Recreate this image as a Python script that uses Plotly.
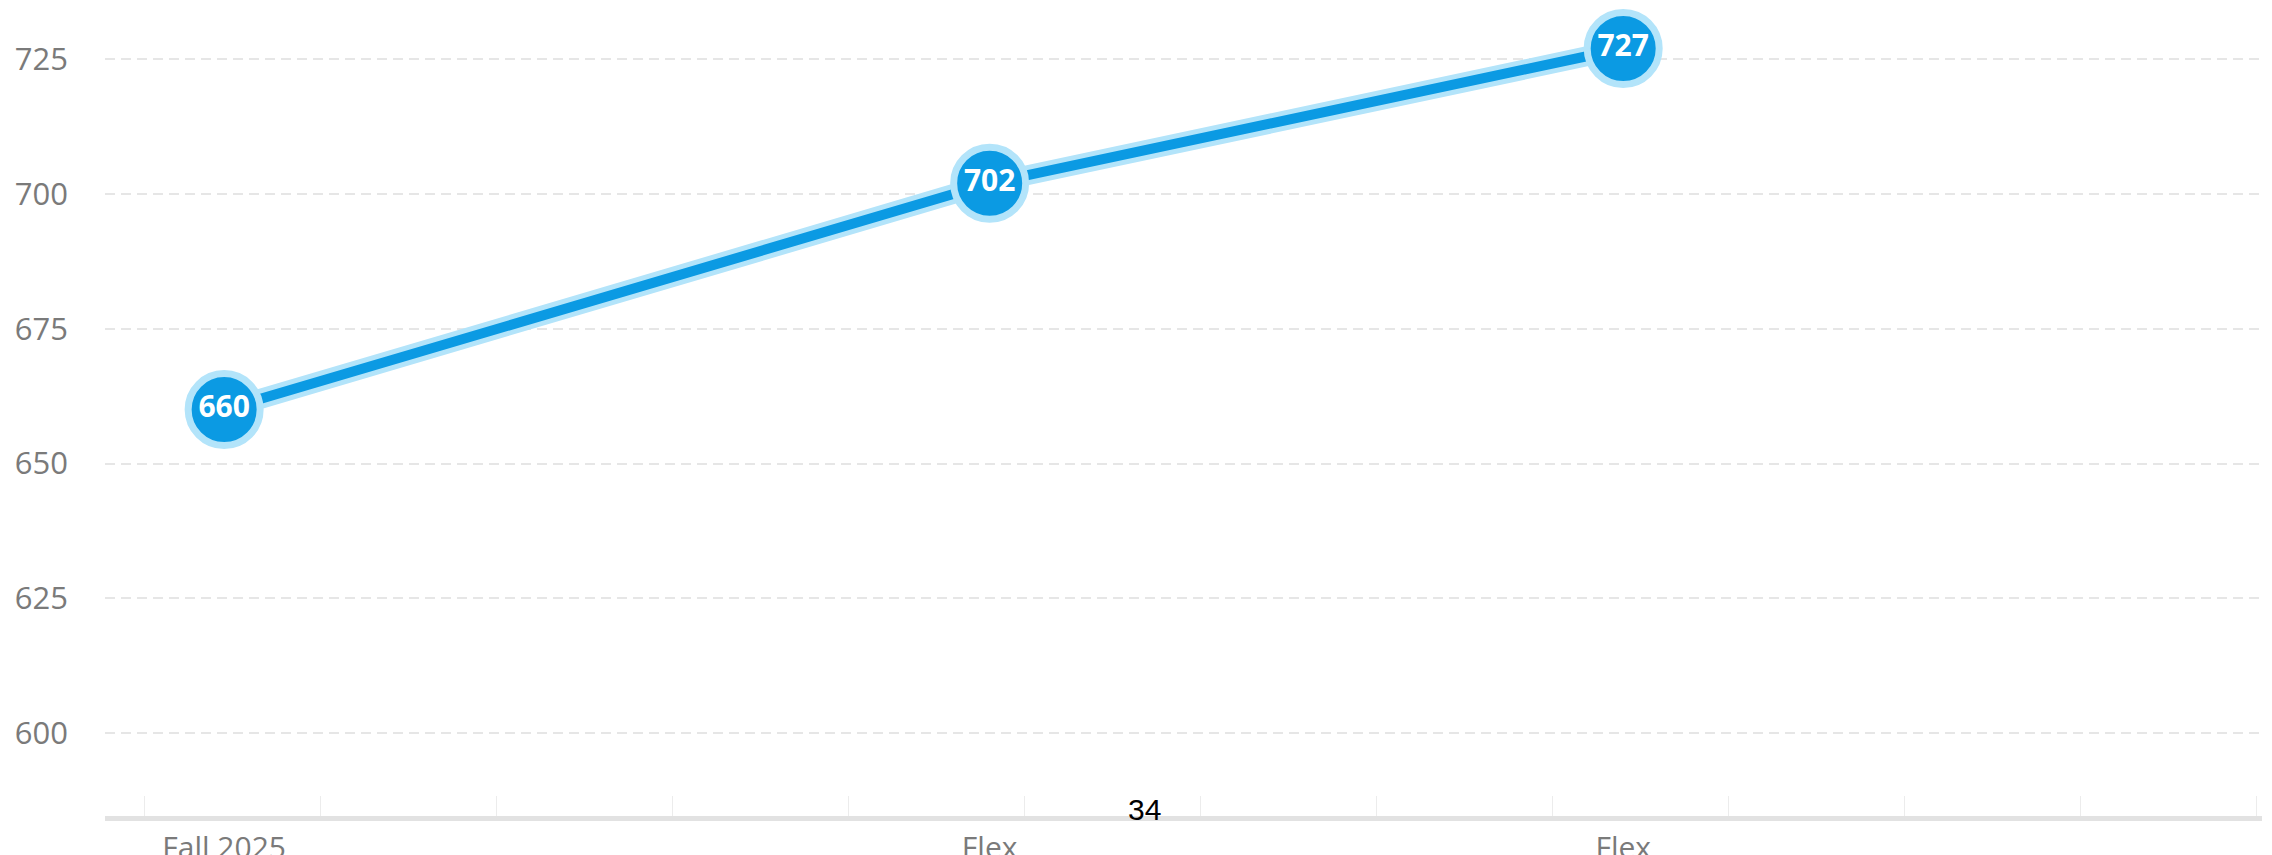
import plotly.graph_objects as go

# ---- data ----
term_labels = ["Fall 2025", "Flex", "Flex"]
term_position = [0.45, 4.8, 8.4]          # position along the timeline (in tick units)
scores = [660, 702, 727]
y_ticks = [600, 625, 650, 675, 700, 725]
page_number = "34"

BLUE = "#0b9ae3"
HALO = "#b3e4fa"

fig = go.Figure()

# soft halo under the line
fig.add_trace(go.Scatter(
    x=term_position, y=scores, mode="lines",
    line=dict(color=HALO, width=20),
    hoverinfo="skip", showlegend=False,
))
# main line with labelled circle markers
fig.add_trace(go.Scatter(
    x=term_position, y=scores, mode="lines+markers+text",
    line=dict(color=BLUE, width=10),
    marker=dict(size=72, color=BLUE, line=dict(color=HALO, width=7)),
    text=[str(v) for v in scores], textposition="middle center",
    textfont=dict(family="Open Sans", size=30, color="white", weight="bold"),
    showlegend=False, cliponaxis=False,
))

fig.update_layout(
    width=2272, height=855,
    margin=dict(l=105, r=10, t=0, b=39),
    paper_bgcolor="white", plot_bgcolor="white",
    xaxis=dict(
        range=[-0.227, 12.03],
        tickmode="array", tickvals=term_position, ticktext=term_labels,
        ticks="", showgrid=False, zeroline=False, automargin=False,
        showline=True, linecolor="#e2e2e2", linewidth=5,
        tickfont=dict(family="Open Sans", size=30, color="#7a7a7a"),
        ticklabelstandoff=1,
        minor=dict(tickmode="linear", tick0=0, dtick=1, ticks="inside",
                   ticklen=20, tickwidth=1, tickcolor="#ececec", showgrid=False),
    ),
    yaxis=dict(
        range=[584.6, 736],
        tickmode="array", tickvals=y_ticks,
        ticks="", showline=False, zeroline=False, automargin=False,
        showgrid=True, gridcolor="#e6e6e6", gridwidth=2, griddash="10px,6px",
        tickfont=dict(family="Open Sans", size=31, color="#7a7a7a"),
        ticklabelstandoff=36,
    ),
    annotations=[dict(
        text=page_number, xref="paper", yref="paper",
        x=0.482, y=0.008, xanchor="center", yanchor="middle",
        showarrow=False,
        font=dict(family="Liberation Sans", size=30, color="black"),
    )],
)

fig.write_html("out.html")
